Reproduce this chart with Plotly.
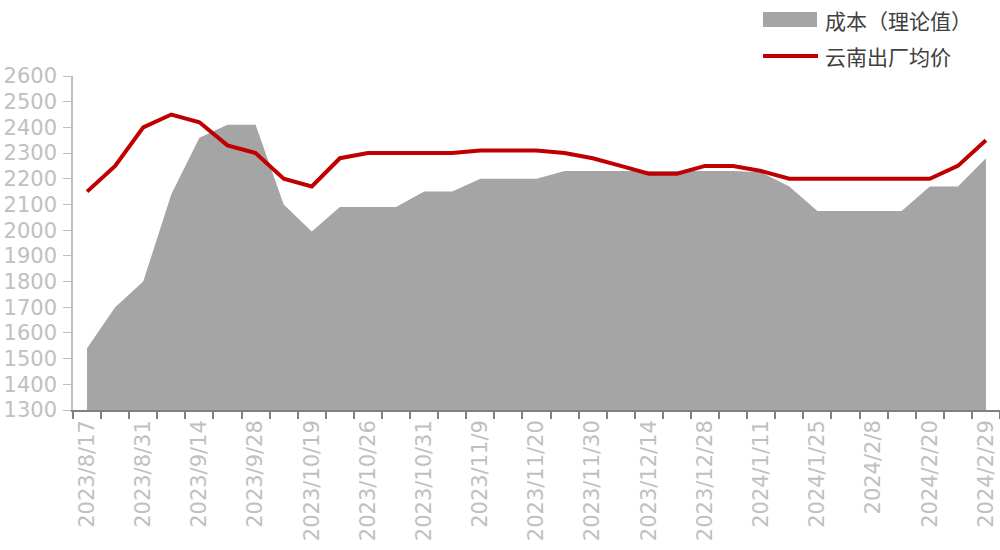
import plotly.graph_objects as go

dates = [
    "2023/8/17", "2023/8/24", "2023/8/31", "2023/9/7", "2023/9/14", "2023/9/21",
    "2023/9/28", "2023/10/12", "2023/10/19", "2023/10/24", "2023/10/26", "2023/10/30",
    "2023/10/31", "2023/11/2", "2023/11/9", "2023/11/16", "2023/11/20", "2023/11/23",
    "2023/11/30", "2023/12/7", "2023/12/14", "2023/12/21", "2023/12/28", "2024/1/4",
    "2024/1/11", "2024/1/18", "2024/1/25", "2024/2/1", "2024/2/8", "2024/2/15",
    "2024/2/20", "2024/2/23", "2024/2/29",
]

cost = [
    1540, 1700, 1800, 2140, 2360, 2410, 2410, 2100, 1995, 2090, 2090, 2090,
    2150, 2150, 2200, 2200, 2200, 2230, 2230, 2230, 2230, 2230, 2230, 2230,
    2225, 2170, 2075, 2075, 2075, 2075, 2170, 2170, 2280,
]

price = [
    2150, 2250, 2400, 2450, 2420, 2330, 2300, 2200, 2170, 2280, 2300, 2300,
    2300, 2300, 2310, 2310, 2310, 2300, 2280, 2250, 2220, 2220, 2250, 2250,
    2230, 2200, 2200, 2200, 2200, 2200, 2200, 2250, 2350,
]

series_names = ["成本（理论值）", "云南出厂均价"]
fill_color = "#a5a5a5"
line_color = "#c00000"

tick_text = [d if i % 2 == 0 else "" for i, d in enumerate(dates)]

fig = go.Figure()
fig.add_trace(go.Scatter(
    x=dates, y=cost, name=series_names[0], mode="none",
    fill="tozeroy", fillcolor=fill_color, showlegend=False,
))
fig.add_trace(go.Scatter(
    x=dates, y=price, name=series_names[1], mode="lines",
    line=dict(color=line_color, width=4), showlegend=False,
))

W, H = 1000, 550
L, R, T, B = 73, 0, 76, 140
pw, ph = W - L - R, H - T - B


def px(x):
    return (x - L) / pw


def py(y):
    return (H - B - y) / ph


# legend (top right) drawn as key shapes + text labels
shapes = [
    dict(type="rect", xref="paper", yref="paper", x0=px(763), x1=px(817),
         y0=py(27), y1=py(12), fillcolor=fill_color, line=dict(width=0)),
    dict(type="line", xref="paper", yref="paper", x0=px(763), x1=px(818),
         y0=py(56), y1=py(56), line=dict(color=line_color, width=4)),
]
annotations = [
    dict(text=series_names[0], xref="paper", yref="paper", x=px(823), y=py(20),
         xanchor="left", yanchor="middle", showarrow=False,
         font=dict(family="Noto Sans CJK SC", size=21, color="#404040")),
    dict(text=series_names[1], xref="paper", yref="paper", x=px(823), y=py(56),
         xanchor="left", yanchor="middle", showarrow=False,
         font=dict(family="Noto Sans CJK SC", size=21, color="#404040")),
]

fig.update_layout(
    width=W, height=H,
    margin=dict(l=L, r=R, t=T, b=B, autoexpand=False),
    paper_bgcolor="white", plot_bgcolor="white",
    font=dict(family="DejaVu Sans", color="#bfbfbf", size=20),
    showlegend=False,
    shapes=shapes, annotations=annotations,
    xaxis=dict(
        type="category", range=[-0.5, len(dates) - 0.5],
        tickmode="array", tickvals=dates, ticktext=tick_text,
        tickson="boundaries", ticks="outside", ticklen=7, tickwidth=1.5,
        tickcolor="#808080", showline=True, linecolor="#808080", linewidth=1.5,
        tickangle=-90, showgrid=False, zeroline=False,
        tickfont=dict(family="DejaVu Sans", size=21, color="#c0c0c0"),
    ),
    yaxis=dict(
        range=[1300, 2600], tickmode="linear", tick0=1300, dtick=100,
        ticks="outside", ticklen=8, tickcolor="#bfbfbf", showline=True,
        linecolor="#bfbfbf", linewidth=1.5, showgrid=False, zeroline=False,
        ticklabelstandoff=2,
        tickfont=dict(family="DejaVu Sans", size=21, color="#c0c0c0"),
    ),
)

fig.write_html(
    "out.html",
    config={"displayModeBar": False},
    post_script="document.body.style.margin='0';document.body.style.overflow='hidden';",
)
